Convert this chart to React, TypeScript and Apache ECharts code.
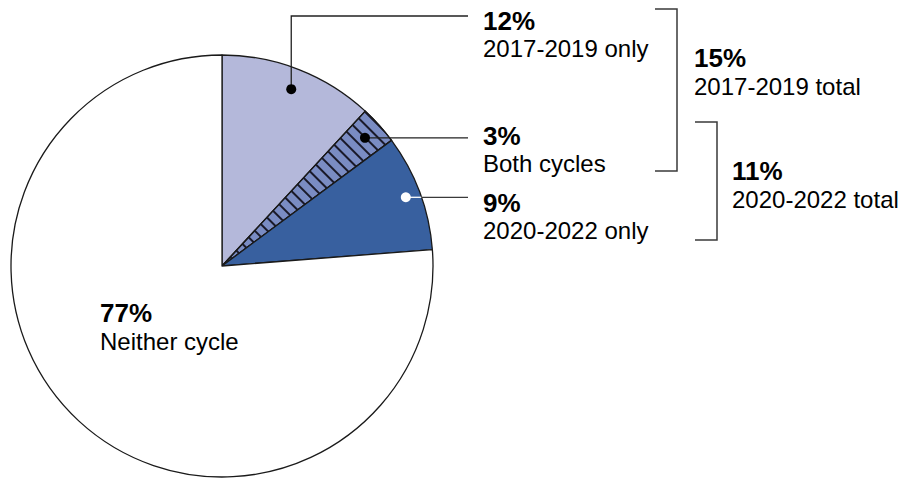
import React, { useEffect, useRef } from "react";
import * as echarts from "echarts";

// Share of respondents by participation cycle (percent)
const categories = ["2017-2019 only", "Both cycles", "2020-2022 only", "Neither cycle"];
const shares = [12, 3, 9, 77];
const sliceColors = ["#b4b8da", "#7a8cc3", "#38609f", "#ffffff"];

// Bracketed totals per cycle (percent)
const totalLabels = ["2017-2019 total", "2020-2022 total"];
const totalShares = [15, 11];

const W = 909;
const H = 478;
const CX = 222;
const CY = 266;
const R = 211;
const FONT = '"Liberation Sans", Arial, Helvetica, sans-serif';
const LINE = "#3a3a3a";

function pctLabel(x: number, yTop: number, ySub: number, pct: number, name: string) {
  return [
    {
      type: "text",
      x,
      y: yTop,
      z: 100,
      style: {
        text: `${pct}%`,
        fontFamily: FONT,
        fontSize: 26,
        fontWeight: "bold",
        fill: "#000",
        verticalAlign: "middle",
      },
    },
    {
      type: "text",
      x,
      y: ySub,
      z: 100,
      style: {
        text: name,
        fontFamily: FONT,
        fontSize: 24,
        fill: "#000",
        verticalAlign: "middle",
      },
    },
  ];
}

export default function App() {
  const ref = useRef<HTMLDivElement>(null);

  useEffect(() => {
    if (!ref.current) return;
    const chart = echarts.init(ref.current, undefined, { renderer: "svg" });

    const total = shares.reduce((a, b) => a + b, 0);
    // marker points sit on each slice's mid angle, near the rim
    const rimFactor = [0.9, 0.91, 0.93, 0];
    let cum = 0;
    const dots = shares.map((s, i) => {
      const a = ((cum + s / 2) / total) * Math.PI * 2;
      cum += s;
      const r = R * rimFactor[i];
      return [CX + r * Math.sin(a), CY - r * Math.cos(a)];
    });

    const LEAD_END = 468;
    const TEXT_X = 483;
    const rimX = (y: number) => CX + Math.sqrt(R * R - (y - CY) * (y - CY));

    const graphics: any[] = [
      // 2017-2019 only: elbow leader
      {
        type: "polyline",
        z: 100,
        shape: { points: [[dots[0][0], dots[0][1]], [dots[0][0], 16], [LEAD_END, 16]] },
        style: { stroke: "#222", lineWidth: 1.3, fill: "none" },
      },
      // Both cycles
      {
        type: "line",
        z: 100,
        shape: { x1: dots[1][0], y1: dots[1][1], x2: LEAD_END, y2: dots[1][1] },
        style: { stroke: "#222", lineWidth: 1.3 },
      },
      // 2020-2022 only: white inside the slice, grey outside
      {
        type: "line",
        z: 100,
        shape: { x1: dots[2][0], y1: dots[2][1], x2: rimX(dots[2][1]), y2: dots[2][1] },
        style: { stroke: "#ffffff", lineWidth: 1.3 },
      },
      {
        type: "line",
        z: 100,
        shape: { x1: rimX(dots[2][1]), y1: dots[2][1], x2: LEAD_END, y2: dots[2][1] },
        style: { stroke: LINE, lineWidth: 1.3 },
      },
      { type: "circle", z: 101, shape: { cx: dots[0][0], cy: dots[0][1], r: 5 }, style: { fill: "#000" } },
      { type: "circle", z: 101, shape: { cx: dots[1][0], cy: dots[1][1], r: 5 }, style: { fill: "#000" } },
      { type: "circle", z: 101, shape: { cx: dots[2][0], cy: dots[2][1], r: 5 }, style: { fill: "#fff" } },
      // brackets
      {
        type: "polyline",
        z: 100,
        shape: { points: [[655, 9], [677, 9], [677, 171], [655, 171]] },
        style: { stroke: LINE, lineWidth: 1.5, fill: "none" },
      },
      {
        type: "polyline",
        z: 100,
        shape: { points: [[695, 122], [717, 122], [717, 240], [695, 240]] },
        style: { stroke: LINE, lineWidth: 1.5, fill: "none" },
      },
      ...pctLabel(TEXT_X, 21, 48, shares[0], categories[0]),
      ...pctLabel(TEXT_X, 136, 163, shares[1], categories[1]),
      ...pctLabel(TEXT_X, 203, 230, shares[2], categories[2]),
      ...pctLabel(100, 313, 341, shares[3], categories[3]),
      ...pctLabel(694, 58, 86, totalShares[0], totalLabels[0]),
      ...pctLabel(732, 171, 199, totalShares[1], totalLabels[1]),
    ];

    chart.setOption({
      animation: false,
      backgroundColor: "#ffffff",
      series: [
        {
          type: "pie",
          center: [CX, CY],
          radius: [0, R],
          startAngle: 90,
          clockwise: true,
          silent: true,
          label: { show: false },
          labelLine: { show: false },
          emphasis: { disabled: true },
          data: categories.map((name, i) => ({
            name,
            value: shares[i],
            itemStyle: {
              color: sliceColors[i],
              borderColor: "#1a1a1a",
              borderWidth: 1.3,
              ...(i === 1
                ? {
                    decal: {
                      symbol: "rect",
                      symbolSize: 1,
                      dashArrayX: [1, 0],
                      dashArrayY: [1.2, 6.8],
                      rotation: Math.PI / 4,
                      color: "#1a1a2a",
                    },
                  }
                : {}),
            },
          })),
        },
      ],
      graphic: graphics,
    });

    return () => chart.dispose();
  }, []);

  return (
    <div
      ref={ref}
      style={{ position: "fixed", left: 0, top: 0, width: W, height: H, background: "#fff" }}
    />
  );
}
